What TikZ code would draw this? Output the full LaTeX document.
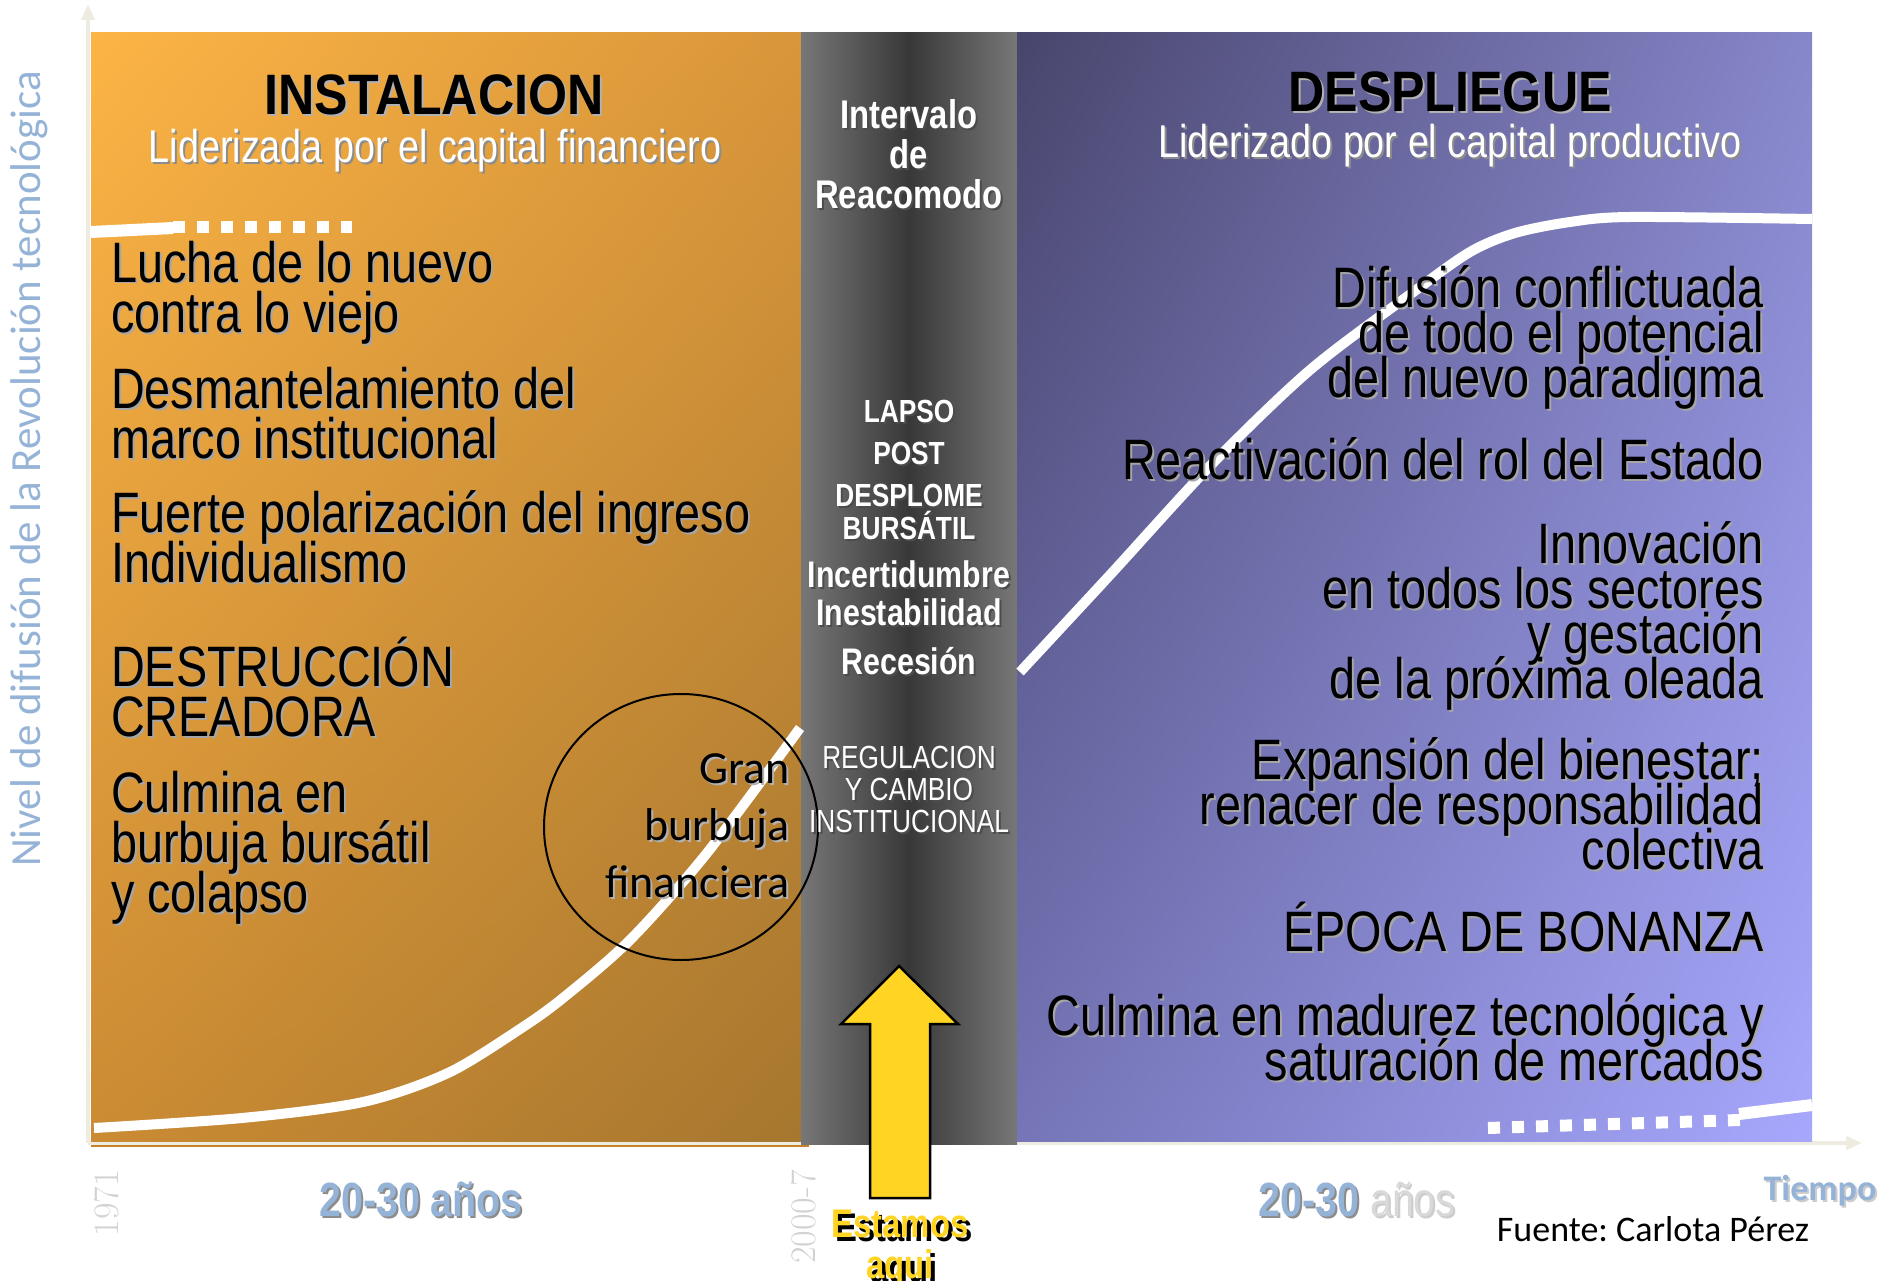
\documentclass[tikz,border=0pt]{standalone}
\usepackage{fontspec}
\usetikzlibrary{arrows.meta,shadings}
\newfontfamily\narrowfont[FakeStretch=0.82]{Liberation Sans}
\newfontfamily\headfont[FakeStretch=0.88]{Liberation Sans}
\newfontfamily\califont{Carlito}
\definecolor{axisgray}{HTML}{EEECE1}
\definecolor{steel}{HTML}{95B3D7}
\definecolor{arrowyellow}{HTML}{FFD422}
\definecolor{brownline}{HTML}{C5822B}
\definecolor{gapedge}{HTML}{777777}
\definecolor{gapmid}{HTML}{383838}
\definecolor{instUL}{RGB}{252,180,69}
\definecolor{instUR}{RGB}{217,150,58}
\definecolor{instLL}{RGB}{203,139,51}
\definecolor{instLR}{RGB}{166,119,47}
\definecolor{despUL}{RGB}{72,69,108}
\definecolor{despUR}{RGB}{134,134,202}
\definecolor{despLL}{RGB}{117,117,184}
\definecolor{despLR}{RGB}{167,167,253}
\newcommand\shadowed[3]{\leavevmode\rlap{\kern#1\raisebox{-#1}{\textcolor{#2}{#3}}}#3}
\newcommand\shd[2][black!35]{\shadowed{2pt}{#1}{#2}}
\newcommand\tightlines{\lineskiplimit=-200pt\lineskip=0pt}
\tikzset{
  axisline/.style={axisgray, line width=4pt, -{Triangle[length=16pt,width=13pt]}},
  wave/.style={white, line width=10pt},
  dotwave/.style={white, line width=12pt, dash pattern=on 12pt off 12pt},
  heading/.style={font=\headfont\bfseries\fontsize{57}{60}\selectfont, anchor=base, inner sep=0pt},
  subheading/.style={font=\narrowfont\fontsize{46}{50}\selectfont, text=white, anchor=base, inner sep=0pt},
  lefttext/.style={font=\narrowfont\fontsize{57}{50}\selectfont\tightlines, align=left, anchor=base west, inner sep=0pt},
  righttext/.style={font=\narrowfont\fontsize{57}{45}\selectfont\tightlines, align=right, anchor=base east, inner sep=0pt},
  gaptext/.style={text=white, align=center, anchor=base, inner sep=0pt},
  bubbletext/.style={font=\califont\fontsize{46}{57}\selectfont\tightlines, align=right, anchor=base east, inner sep=0pt},
  yeartext/.style={font=\rmfamily\fontsize{36}{36}\selectfont, text=gray!35, rotate=90, inner sep=0pt},
  spantext/.style={font=\narrowfont\bfseries\fontsize{48}{50}\selectfont, text=steel, anchor=base, inner sep=0pt},
  arrowbody/.style={fill=arrowyellow, draw=black, line width=2.5pt, line join=miter},
}
\frenchspacing
\begin{document}
\begin{tikzpicture}[x=1pt, y=-1pt]
  \useasboundingbox (0,0) rectangle (1898,1281);

  % axes
  \coordinate (origin) at (88,1143);
  \coordinate (ytop) at (88,4);
  \coordinate (xend) at (1862,1143);
  \draw[axisline] (origin) -- (ytop);
  \draw[axisline] (origin) -- (xend);

  % the three phases
  \shade[upper left=instUL, upper right=instUR, lower left=instLL, lower right=instLR]
    (91,33) rectangle (801,1141);
  \shade[left color=gapedge, right color=gapedge, middle color=gapmid] (801,33) rectangle (1017,1144);
  \shade[upper left=despUL, upper right=despUR, lower left=despLL, lower right=despLR]
    (1017,33) rectangle (1812,1141);
  \draw[brownline, line width=2pt] (91,1146) -- (809,1146);

  % diffusion curve
  \draw[wave] plot[smooth] coordinates {(94,1128) (242,1118) (363,1102) (448,1073) (520,1029)
    (563,998) (630,940) (707,853) (800,728)};
  \draw[wave] plot[smooth] coordinates {(1020,672) (1110,575) (1210,466) (1310,370) (1412,293)
    (1470,252) (1515,233) (1570,222) (1630,217) (1812,219)};
  \draw[wave, line width=12pt] (91,232) -- (173,228);
  \draw[dotwave] (173,227) -- (352,227);
  \draw[dotwave] (1488,1128) -- (1740,1120);
  \draw[wave, line width=12pt] (1739,1114) -- (1812,1105);

  % bubble
  \draw[line width=2pt] (681,827) ellipse [x radius=137pt, y radius=133pt];

  % headings
  \node[heading] (inst) at (434,115) {\shd[black!30]{INSTALACION}};
  \node[subheading] (instsub) at (435,163) {\shd[black!45]{Liderizada por el capital financiero}};
  \node[heading] (desp) at (1450,112) {\shd[black!30]{DESPLIEGUE}};
  \node[subheading] (despsub) at (1450,158) {\shd[black!45]{Liderizado por el capital productivo}};

  % installation (nodes sit on the baseline of their last line)
  \node[lefttext] (lucha) at (111,332) {\shd{Lucha de lo nuevo}\\\shd{contra lo viejo}};
  \node[lefttext] (desmant) at (111,458) {\shd{Desmantelamiento del}\\\shd{marco institucional}};
  \node[lefttext] (fuerte) at (111,582) {\shd{Fuerte polarización del ingreso}\\\shd{Individualismo}};
  \node[lefttext] (destr) at (111,736) {\shd{DESTRUCCIÓN}\\\shd{CREADORA}};
  \node[lefttext] (culm) at (111,912) {\shd{Culmina en}\\\shd{burbuja bursátil}\\\shd{y colapso}};
  \node[bubbletext] (gran) at (790,897) {\shd[black!30]{Gran}\\\shd[black!30]{burbuja}\\\shd[black!30]{financiera}};

  % turning point
  \node[gaptext, font=\narrowfont\bfseries\fontsize{40}{40}\selectfont\tightlines] (interv) at (909,209)
    {\shd[black!70]{Intervalo}\\\shd[black!70]{de}\\\shd[black!70]{Reacomodo}};
  \node[gaptext, font=\narrowfont\bfseries\fontsize{32}{42}\selectfont\tightlines] (lapso) at (909,539)
    {\shd[black!70]{LAPSO}\\\shd[black!70]{POST}\\\shd[black!70]{DESPLOME}\\[-9pt]\shd[black!70]{BURSÁTIL}};
  \node[gaptext, font=\narrowfont\bfseries\fontsize{37}{38}\selectfont\tightlines] (incert) at (909,674)
    {\shd[black!70]{Incertidumbre}\\\shd[black!70]{Inestabilidad}\\[11pt]\shd[black!70]{Recesión}};
  \node[gaptext, font=\narrowfont\fontsize{32}{32}\selectfont\tightlines] (regul) at (909,832)
    {\shd[black!70]{REGULACION}\\\shd[black!70]{Y CAMBIO}\\\shd[black!70]{INSTITUCIONAL}};

  % deployment
  \node[righttext] (difus) at (1764,397) {\shd{Difusión conflictuada}\\\shd{de todo el potencial}\\\shd{del nuevo paradigma}};
  \node[righttext] (react) at (1764,479) {\shd{Reactivación del rol del Estado}};
  \node[righttext] (innov) at (1764,698) {\shd{Innovación}\\\shd{en todos los sectores}\\\shd{y gestación}\\\shd{de la próxima oleada}};
  \node[righttext] (expan) at (1764,869) {\shd{Expansión del bienestar;}\\\shd{renacer de responsabilidad}\\\shd{colectiva}};
  \node[righttext] (epoca) at (1764,951) {\shd{ÉPOCA DE BONANZA}};
  \node[righttext] (madur) at (1764,1080) {\shd{Culmina en madurez tecnológica y}\\\shd{saturación de mercados}};

  % we are here
  \draw[arrowbody] (899,966) -- (958,1024) -- (930,1024) -- (930,1198) -- (870,1198) -- (870,1024) -- (841,1024) -- cycle;
  \node[font=\narrowfont\bfseries\fontsize{40}{41}\selectfont\tightlines, text=arrowyellow, align=center, anchor=base, inner sep=0pt]
    (estamos) at (900,1278) {\shadowed{4pt}{black}{Estamos}\\\shadowed{4pt}{black}{aqui}};

  % time axis labels
  \node[yeartext] (y1971) at (107,1203) {1971};
  \node[yeartext] (y2000) at (804,1217) {2000-7};
  \node[spantext] (spanA) at (421,1216) {\shd[black!45]{20-30 años}};
  \node[spantext] (spanB) at (1357,1216) {\shd[black!45]{20-30} {\mdseries\color{gray!30}\shd[black!20]{años}}};
  \node[font=\califont\bfseries\fontsize{36}{40}\selectfont, text=steel, anchor=base, inner sep=0pt]
    (tiempo) at (1820,1200) {\shd[black!20]{Tiempo}};
  \node[font=\califont\fontsize{36}{40}\selectfont, anchor=base, inner sep=0pt]
    (fuente) at (1653,1241) {Fuente: Carlota Pérez};
  \node[font=\califont\fontsize{43}{44}\selectfont, text=steel, rotate=90, inner sep=0pt]
    (ylabel) at (29,469) {Nivel de difusión de la Revolución tecnológica};
\end{tikzpicture}
\end{document}
